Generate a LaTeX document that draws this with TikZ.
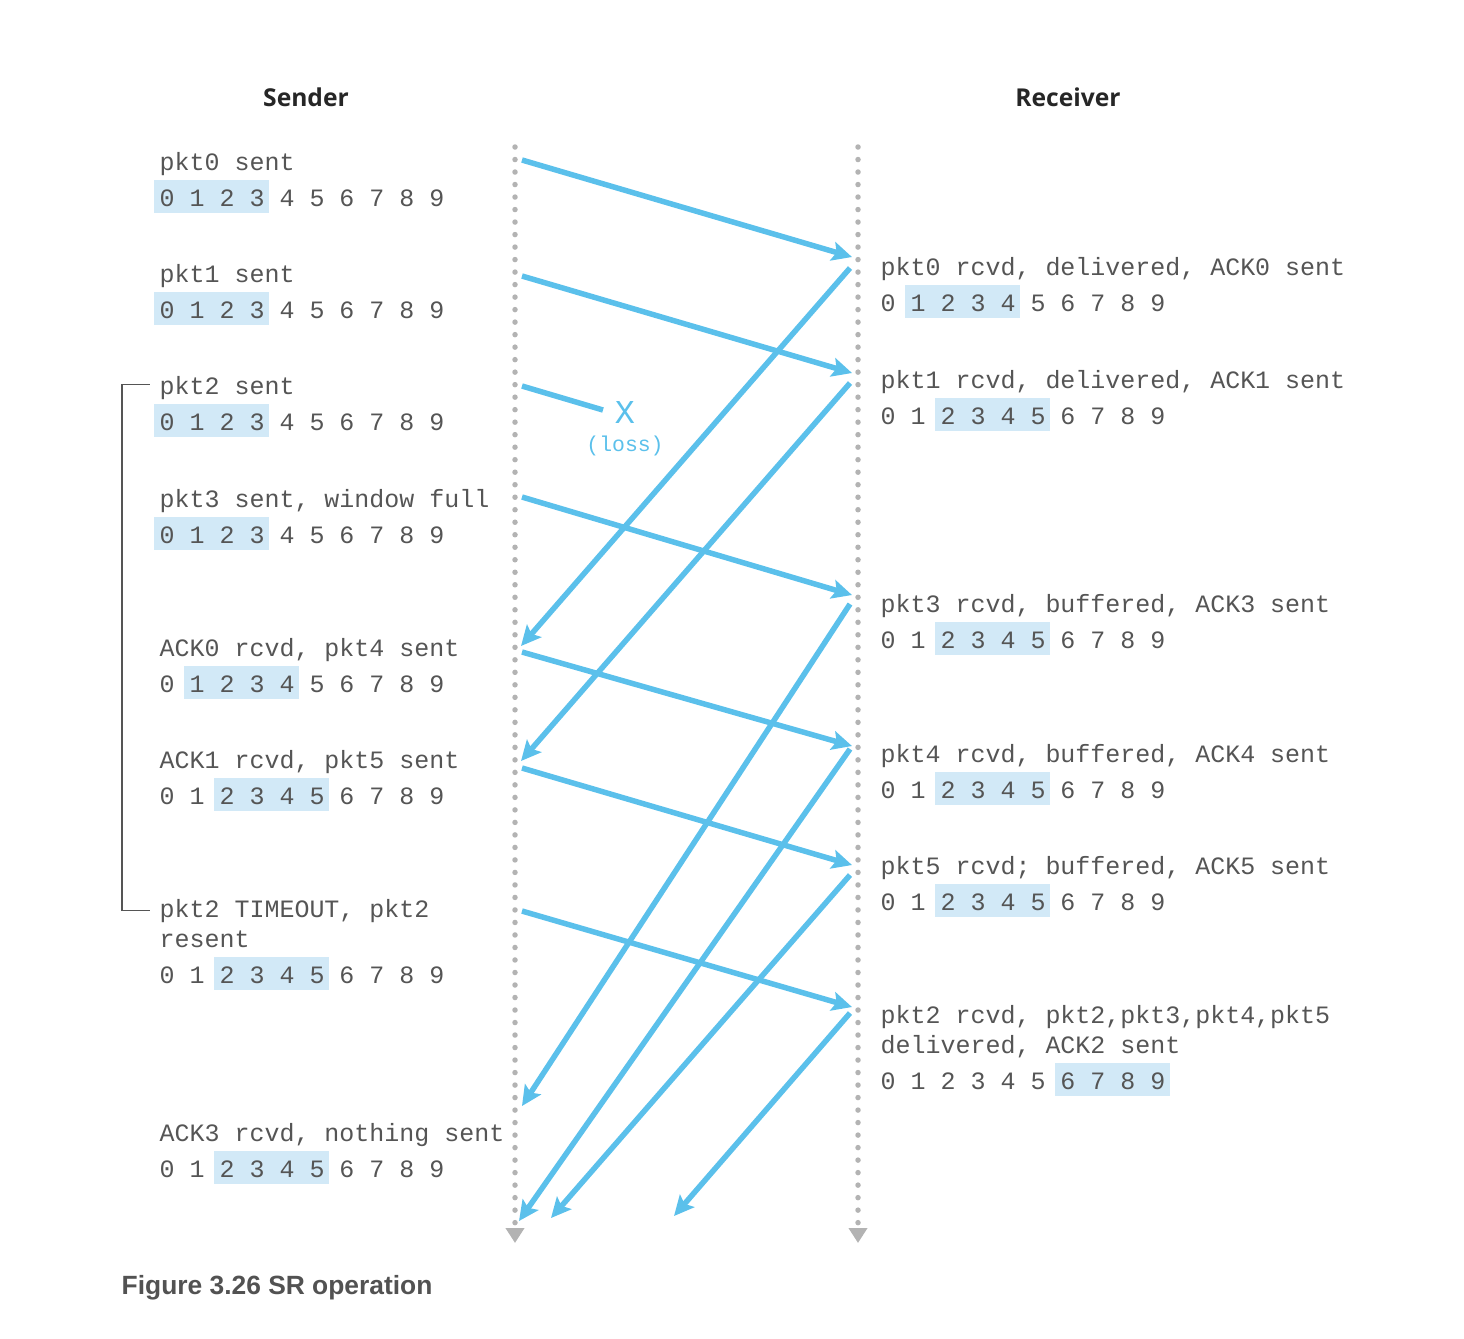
\documentclass[tikz,border=0pt]{standalone}
\usepackage{fontspec}
\usetikzlibrary{arrows.meta}
\newfontfamily\seqfont{Liberation Mono}
\newfontfamily\headfont{Open Sans}
\newfontfamily\capfont{Liberation Sans}
\definecolor{pktblue}{HTML}{5BC0EB}
\definecolor{winblue}{HTML}{D2E9F7}
\definecolor{txtgray}{HTML}{555555}
\definecolor{tlgray}{HTML}{B3B3B3}
\tikzset{
  lbl/.style={anchor=base west, inner sep=0pt, text=txtgray, font=\seqfont\fontsize{7.1}{8}\selectfont},
  head/.style={inner sep=0pt, text=black!85, font=\headfont\bfseries\fontsize{7}{8}\selectfont},
  timeline/.style={tlgray, line width=0.055cm, line cap=round, dash pattern=on 0pt off 0.125cm, -{Triangle[length=0.15cm,width=0.18cm]}},
  msg/.style={pktblue, line width=0.055cm, -{Stealth[length=0.2cm,width=0.19cm,inset=0.04cm]}},
  lost/.style={pktblue, line width=0.055cm},
  bracketline/.style={txtgray, line width=0.4pt},
}
% digit row with shaded window: name, x, baseline, first, last
\newcommand{\seqrow}[5]{%
  \fill[winblue] ({#2+30*#4-5},{#3-26}) rectangle ({#2+30*#5+20},{#3+7});
  \node[lbl] (#1) at (#2,#3) {0 1 2 3 4 5 6 7 8 9};
}
\frenchspacing
\begin{document}
\begin{tikzpicture}[x=0.01cm, y=-0.01cm]
\useasboundingbox (0,0) rectangle (1464,1338);
\node[head] (sender) at (306,97) {Sender};
\node[head] (receiver) at (1068,97) {Receiver};

% time lines
\coordinate (stop) at (515,147);
\coordinate (sbot) at (515,1243);
\coordinate (rtop) at (858,147);
\coordinate (rbot) at (858,1243);
\draw[timeline] (stop) -- (sbot);
\draw[timeline] (rtop) -- (rbot);

% sender side
\node[lbl] (s0) at (159,170) {pkt0 sent};
\seqrow{sw0}{159}{206}{0}{3}
\node[lbl] (s1) at (159,282) {pkt1 sent};
\seqrow{sw1}{159}{318}{0}{3}
\node[lbl] (s2) at (159,394) {pkt2 sent};
\seqrow{sw2}{159}{430}{0}{3}
\node[lbl] (s3) at (159,507) {pkt3 sent, window full};
\seqrow{sw3}{159}{543}{0}{3}
\node[lbl] (s4) at (159,656) {ACK0 rcvd, pkt4 sent};
\seqrow{sw4}{159}{692}{1}{4}
\node[lbl] (s5) at (159,768) {ACK1 rcvd, pkt5 sent};
\seqrow{sw5}{159}{804}{2}{5}
\node[lbl] (s6) at (159,917) {pkt2 TIMEOUT, pkt2};
\node[lbl] (s6b) at (159,947) {resent};
\seqrow{sw6}{159}{983}{2}{5}
\node[lbl] (s7) at (159,1141) {ACK3 rcvd, nothing sent};
\seqrow{sw7}{159}{1177}{2}{5}

% timer bracket
\draw[bracketline] ([xshift=-0.09cm,yshift=0.03cm]s2.west) -- ++(-28,0) |- ([xshift=-0.09cm]s6.west);

% receiver side
\node[lbl] (r0) at (880,275) {pkt0 rcvd, delivered, ACK0 sent};
\seqrow{rw0}{880}{311}{1}{4}
\node[lbl] (r1) at (880,388) {pkt1 rcvd, delivered, ACK1 sent};
\seqrow{rw1}{880}{424}{2}{5}
\node[lbl] (r3) at (880,612) {pkt3 rcvd, buffered, ACK3 sent};
\seqrow{rw3}{880}{648}{2}{5}
\node[lbl] (r4) at (880,762) {pkt4 rcvd, buffered, ACK4 sent};
\seqrow{rw4}{880}{798}{2}{5}
\node[lbl] (r5) at (880,874) {pkt5 rcvd; buffered, ACK5 sent};
\seqrow{rw5}{880}{910}{2}{5}
\node[lbl] (r2) at (880,1023) {pkt2 rcvd, pkt2,pkt3,pkt4,pkt5};
\node[lbl] (r2b) at (880,1053) {delivered, ACK2 sent};
\seqrow{rw2}{880}{1089}{6}{9}

% packets
\coordinate (d0s) at (522,160);  \coordinate (d0e) at (852,257);
\coordinate (d1s) at (522,276);  \coordinate (d1e) at (852,373);
\coordinate (d3s) at (522,497);  \coordinate (d3e) at (852,595);
\coordinate (d4s) at (522,652);  \coordinate (d4e) at (852,746);
\coordinate (d5s) at (522,768);  \coordinate (d5e) at (852,865);
\coordinate (d6s) at (522,911);  \coordinate (d6e) at (852,1007);
\foreach \a/\b in {d0s/d0e, d1s/d1e, d3s/d3e, d4s/d4e, d5s/d5e, d6s/d6e}
  \draw[msg] (\a) -- (\b);

% lost packet
\coordinate (d2s) at (522,386);  \coordinate (d2e) at (603,410);
\draw[lost] (d2s) -- (d2e);
\node[lbl, anchor=center, text=pktblue, font=\seqfont\fontsize{9.5}{10}\selectfont] (xmark) at (625,412) {X};
\node[lbl, anchor=center, text=pktblue, font=\seqfont\fontsize{6.1}{7}\selectfont] (loss) at (625,446) {(loss)};

% acks
\coordinate (a0s) at (850,268);  \coordinate (a0e) at (521,646);
\coordinate (a1s) at (850,383);  \coordinate (a1e) at (521,761);
\coordinate (a3s) at (850,604);  \coordinate (a3e) at (522,1106);
\coordinate (a4s) at (850,749);  \coordinate (a4e) at (519,1221);
\coordinate (a5s) at (850,875);  \coordinate (a5e) at (551,1218);
\coordinate (a2s) at (850,1013); \coordinate (a2e) at (674,1216);
\foreach \a/\b in {a0s/a0e, a1s/a1e, a3s/a3e, a4s/a4e, a5s/a5e, a2s/a2e}
  \draw[msg] (\a) -- (\b);

\node[anchor=west, inner sep=0pt, text=black!68, font=\capfont\bfseries\fontsize{7.5}{9}\selectfont] (caption) at (121,1288) {Figure 3.26 SR operation};
\end{tikzpicture}
\end{document}
